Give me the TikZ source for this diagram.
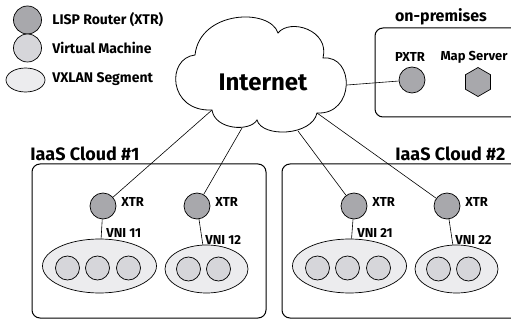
\documentclass[tikz,border=0pt]{standalone}
\usepackage{fontspec}
\setmainfont{Fira Sans}
\usetikzlibrary{shapes.geometric}
\definecolor{routergray}{RGB}{168,168,172}
\definecolor{vmgray}{RGB}{214,214,218}
\definecolor{seggray}{RGB}{236,236,238}
\tikzset{%
		router/.style={draw,circle,fill=routergray,minimum size=26pt,inner sep=0pt},
		vm/.style={draw,circle,fill=vmgray,minimum size=24pt,inner sep=0pt},
		segment/.style={draw,ellipse,fill=seggray,inner sep=0pt},
		site/.style={draw,line width=1pt,rounded corners=8pt},
		link/.style={draw,line width=.6pt},
		tag/.style={font=\bfseries\fontsize{13}{15}\selectfont,inner sep=0pt},
		legend/.style={font=\bfseries\fontsize{14}{16}\selectfont,inner sep=0pt,anchor=west},
		title/.style={font=\bfseries\fontsize{18}{21}\selectfont,inner sep=0pt}
	}
\newcommand{\segthree}[3]{
		\node[segment,minimum width=114pt,minimum height=54pt] (#1) at (#2,#3) {};
		\node[vm] (#1a) at (#2-32,#3+2) {};
		\node[vm] (#1b) at (#2-2,#3+2) {};
		\node[vm] (#1c) at (#2+29,#3+2) {};
		}
\newcommand{\segtwo}[3]{
		\node[segment,minimum width=83pt,minimum height=48pt] (#1) at (#2,#3) {};
		\node[vm] (#1a) at (#2-18,#3) {};
		\node[vm] (#1b) at (#2+12,#3) {};
		}
\begin{document}
\begin{tikzpicture}[x=1pt,y=-1pt,line width=.7pt]
	\useasboundingbox (0,0) rectangle (511,323);
	% legend
	\node[router,minimum size=28pt] (legrouter) at (27.5,20) {};
	\node[legend] (legroutertxt) at (52,20) {LISP Router (XTR)};
	\node[vm,minimum size=28pt] (legvm) at (27.5,48) {};
	\node[legend] (legvmtxt) at (52,48) {Virtual Machine};
	\node[segment,minimum width=39pt,minimum height=24pt] (legseg) at (25.5,80) {};
	\node[legend] (legsegtxt) at (52,79) {VXLAN Segment};
	% internet
	\draw[line width=.8pt,fill=white] (212,110) .. controls (168,112) and (166,58) .. (195,55)
		.. controls (200,10) and (270,8) .. (278,33)
		.. controls (290,18) and (330,30) .. (323,58)
		.. controls (355,55) and (355,115) .. (317,113)
		.. controls (312,136) and (262,138) .. (257,120)
		.. controls (250,132) and (215,130) .. (212,110) -- cycle;
	\node[font=\bfseries\fontsize{24}{28}\selectfont,inner sep=0pt] (inet) at (263,82) {Internet};
	\coordinate (c1) at (212,110);
	\coordinate (c2) at (242,128);
	\coordinate (c3) at (298,131);
	\coordinate (c4) at (317,113);
	\coordinate (c5) at (347,85);
	% on-premises
	\draw[site] (375,28) rectangle (530,117);
	\node[title,font=\bfseries\fontsize{16}{19}\selectfont] (onprem) at (441,17) {on-premises};
	\node[tag] (pxtrtxt) at (410,57) {PXTR};
	\node[router] (pxtr) at (412,80) {};
	\node[tag] (mstxt) at (474,57) {Map Server};
	\node[draw,regular polygon,regular polygon sides=6,shape border rotate=30,fill=routergray,minimum size=29pt,inner sep=0pt] (ms) at (478,82) {};
	% clouds
	\draw[site] (32,164) rectangle (266,318);
	\draw[site] (282,164) rectangle (530,318);
	\node[title,anchor=west] (cloud1) at (30,154) {IaaS Cloud \#1};
	\node[title,anchor=west] (cloud2) at (395,154) {IaaS Cloud \#2};
	\node[router] (xtr11) at (103,206) {};
	\node[router] (xtr12) at (197,206) {};
	\node[router] (xtr21) at (354,206) {};
	\node[router] (xtr22) at (447,206) {};
	\node[tag,anchor=west] (xtr11txt) at (121,202) {XTR};
	\node[tag,anchor=west] (xtr12txt) at (215,202) {XTR};
	\node[tag,anchor=west] (xtr21txt) at (372,202) {XTR};
	\node[tag,anchor=west] (xtr22txt) at (465,202) {XTR};
	\segthree{seg11}{99.5}{266}
	\segtwo{seg12}{206.5}{269}
	\segthree{seg21}{349.5}{266}
	\segtwo{seg22}{456.5}{269}
	\node[tag,anchor=west] (vni11) at (106,233) {VNI 11};
	\node[tag,anchor=west] (vni12) at (205,240) {VNI 12};
	\node[tag,anchor=west] (vni21) at (357,233) {VNI 21};
	\node[tag,anchor=west] (vni22) at (455,240) {VNI 22};
	% links
	\draw[link] (xtr11) -- (c1);
	\draw[link] (xtr12) -- (c2);
	\draw[link] (xtr21) -- (c3);
	\draw[link] (xtr22) -- (c4);
	\draw[link] (pxtr) -- (c5);
	\draw[link] (xtr11) -- (seg11);
	\draw[link] (xtr12) -- (seg12);
	\draw[link] (xtr21) -- (seg21);
	\draw[link] (xtr22) -- (seg22);
\end{tikzpicture}
\end{document}
